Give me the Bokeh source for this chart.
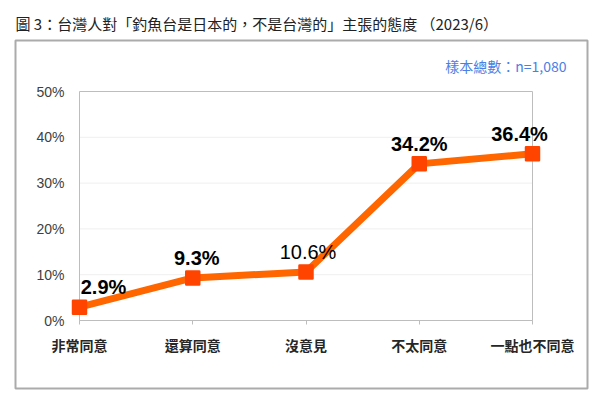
from bokeh.plotting import figure
from bokeh.models import (ColumnDataSource, Range1d, FixedTicker, PrintfTickFormatter, Label)
from bokeh.embed import file_html
from bokeh.resources import INLINE
from bokeh.core.properties import value

# ---- data ----
categories = ["非常同意", "還算同意", "沒意見", "不太同意", "一點也不同意"]
percent = [2.9, 9.3, 10.6, 34.2, 36.4]
y_ticks = [0, 10, 20, 30, 40, 50]
title_text = "圖 3：台灣人對「釣魚台是日本的，不是台灣的」主張的態度 （2023/6）"
note_text = "樣本總數：n=1,080"

# ---- styling (not data) ----
label_dx = [24, 4, 2, 0, -13]
label_weight = ["bold", "bold", "normal", "bold", "bold"]

n = len(categories)
xs = list(range(n))
y_max = y_ticks[-1]

# outer frame (canvas px): left 15, right 587, top 40, bottom 388
# inner plot box (canvas px): left 79, right 532, top 91, bottom 320
px_x = (532 - 79) / (n - 1)
px_y = (320 - 91) / y_max
x_range = Range1d(0 - (79 - 15) / px_x, (n - 1) + (587 - 532) / px_x)
y_range = Range1d(0 - (388 - 320) / px_y, y_max + (91 - 40) / px_y)

src = ColumnDataSource(dict(
    x=xs, y=percent,
    text=[f"{v:.1f}%" for v in percent],
    dx=label_dx, weight=label_weight,
))

p = figure(width=600, height=401, output_backend="svg", toolbar_location=None,
           x_range=x_range, y_range=y_range,
           min_border_left=15, min_border_right=13, min_border_top=40, min_border_bottom=13,
           background_fill_color="white", border_fill_color="white")

# outer box = frame outline
p.outline_line_color = "#ababab"
p.outline_line_width = 2

# title
p.title.text = title_text
p.title.align = "left"
p.title.text_font = "Noto Sans CJK TC"
p.title.text_font_size = "15px"
p.title.text_font_style = "normal"
p.title.text_color = "#222222"
p.title.standoff = 14
p.title.offset = 0

p.xgrid.visible = False
p.ygrid.visible = False

# gridlines inside inner box
grid_y = [t for t in y_ticks if 0 < t < y_max]
p.segment(x0=[0] * len(grid_y), x1=[n - 1] * len(grid_y), y0=grid_y, y1=grid_y,
          line_color="#efefef", line_width=1)
# inner plot box
p.quad(left=[0], right=[n - 1], bottom=[0], top=[y_max],
       fill_color=None, line_color="#bdbdbd", line_width=1)

# y axis inside the frame
p.yaxis.fixed_location = 0
p.yaxis.bounds = (0, y_max)
p.yaxis.ticker = FixedTicker(ticks=y_ticks)
p.yaxis.formatter = PrintfTickFormatter(format="%d%%")
p.yaxis.axis_line_color = None
p.yaxis.major_tick_line_color = None
p.yaxis.major_tick_in = 0
p.yaxis.major_tick_out = 0
p.yaxis.minor_tick_line_color = None
p.yaxis.major_label_standoff = 15
p.yaxis.major_label_text_font = "Liberation Sans"
p.yaxis.major_label_text_font_size = "14px"
p.yaxis.major_label_text_color = "#404040"

# x axis inside the frame
p.xaxis.fixed_location = 0
p.xaxis.bounds = (0, n - 1)
p.xaxis.ticker = FixedTicker(ticks=xs)
p.xaxis.major_label_overrides = {i: c for i, c in zip(xs, categories)}
p.xaxis.axis_line_color = "#bdbdbd"
p.xaxis.major_tick_line_color = "#bdbdbd"
p.xaxis.major_tick_in = 0
p.xaxis.major_tick_out = 4
p.xaxis.minor_tick_line_color = None
p.xaxis.major_label_standoff = 10
p.xaxis.major_label_text_font = "Noto Sans CJK TC"
p.xaxis.major_label_text_font_size = "14px"
p.xaxis.major_label_text_font_style = "bold"
p.xaxis.major_label_text_color = "#262626"

# line and markers
p.line("x", "y", source=src, line_color="#FF6600", line_width=7, line_join="round")
p.scatter("x", "y", source=src, marker="square", size=13, fill_color="#FF4400",
          line_color="#FF4400", line_width=2.5, line_join="round")

# data labels
p.text("x", "y", text="text", source=src, x_offset="dx", y_offset=-20,
       text_align="center", text_baseline="middle",
       text_font=value("Liberation Sans"), text_font_size="20px",
       text_font_style="weight", text_color="#000000")

# sample size note
p.add_layout(Label(x=566, y=65, x_units="canvas", y_units="canvas", text=note_text,
                   text_font="Noto Sans CJK TC", text_font_size="14px",
                   text_color="#4A7FE6", text_baseline="middle", text_align="right"))

open("out.html", "w").write(file_html(p, INLINE))
